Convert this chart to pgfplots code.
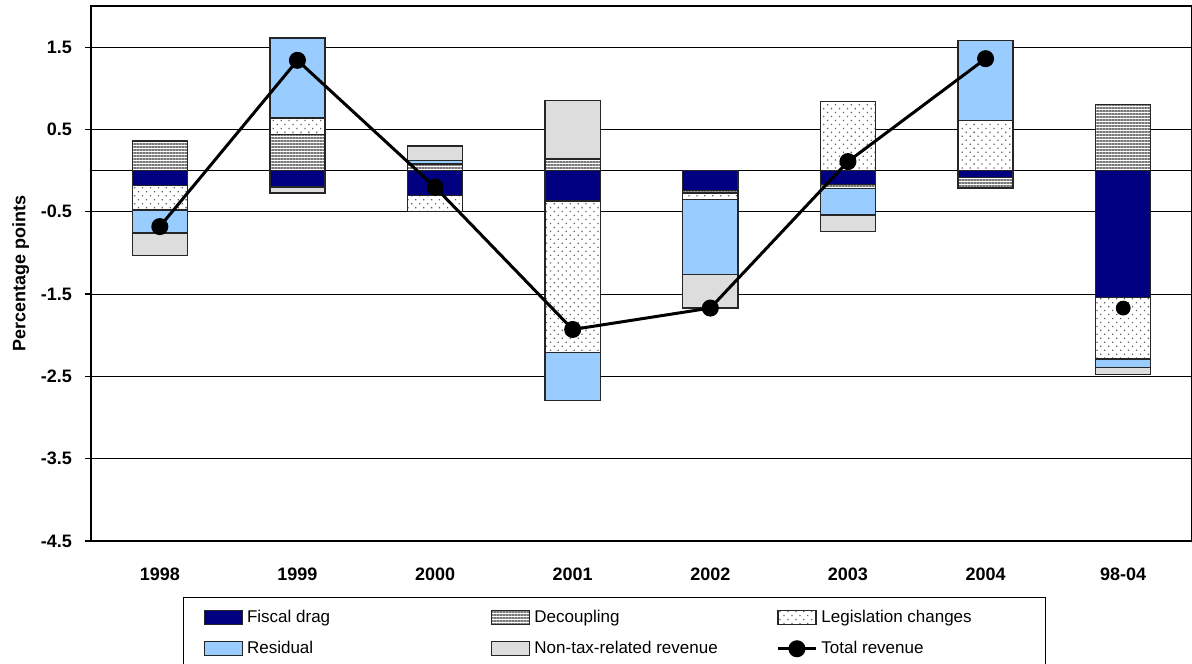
\documentclass[border=0pt]{standalone}
\usepackage{fontspec}
\setmainfont{Liberation Sans}
\usepackage{pgfplots}
\pgfplotsset{compat=1.18}
\usepackage{pgfplotstable}
\usetikzlibrary{patterns.meta}

\definecolor{drag}{HTML}{000080}
\definecolor{resid}{HTML}{99CCFF}
\definecolor{nontax}{HTML}{DDDDDD}
\definecolor{stripe}{HTML}{787878}
\definecolor{dot}{HTML}{606060}

% contributions, percentage points (signed); x = category index
\pgfplotstableread{
x fiscal decoup legis resid nontax
0 -0.18  0.36 -0.30 -0.28 -0.27
1 -0.20  0.44  0.20  0.97 -0.07
2 -0.30  0.08 -0.20  0.04  0.18
3 -0.37  0.14 -1.84 -0.58  0.71
4 -0.24 -0.03 -0.08 -0.91 -0.41
5 -0.17 -0.05  0.84 -0.32 -0.20
6 -0.08 -0.13  0.61  0.97 -0.01
7 -1.54  0.80 -0.75 -0.10 -0.09
}\contrib

\pgfplotstableread{
x total
0 -0.68
1  1.34
2 -0.20
3 -1.93
4 -1.67
5  0.11
6  1.36
}\total

\pgfplotsset{
  frame/.style={
    width=550.5pt, height=267.5pt, scale only axis,
    xmin=-0.5, xmax=7.5, ymin=-4.5, ymax=2,
  },
  bars/.style={frame, ybar stacked, bar width=0.4},
  seg/.style={draw=black!85, line width=0.7pt},
  fiscalst/.style={seg, fill=drag},
  decoupst/.style={seg, fill=white, postaction={pattern={Lines[angle=0,distance=1.5pt,line width=0.7pt]}, pattern color=stripe}},
  legisst/.style={seg, fill=white, postaction={pattern={Dots[angle=45,distance=2.8pt,radius=0.45pt]}, pattern color=dot}},
  residst/.style={seg, fill=resid},
  nontaxst/.style={seg, fill=nontax},
  barlegend/.style={legend image code/.code={\draw[##1] (0pt,-3.5pt) rectangle (19pt,3.5pt);}},
  linelegend/.style={legend image code/.code={\draw[mark repeat=2,mark phase=2,##1] plot coordinates {(0pt,0pt) (9.5pt,0pt) (19pt,0pt)};}},
}

\begin{document}
\begin{tikzpicture}
% positive parts, with the frame and grid
\begin{axis}[bars, name=ax,
  axis line style={black, line width=0.8pt},
  xtick={0,...,7},
  xticklabels={1998,1999,2000,2001,2002,2003,2004,98-04},
  x tick style={draw=none},
  xticklabel style={font=\bfseries\fontsize{9}{10}\selectfont, yshift=-7pt},
  ytick={-4.5,-3.5,-2.5,-1.5,-0.5,0.5,1.5},
  yticklabels={-4.5,-3.5,-2.5,-1.5,-0.5,0.5,1.5},
  yticklabel style={font=\bfseries\fontsize{9}{10}\selectfont, xshift=-3pt},
  y tick style={black, line width=0.6pt},
  tick align=outside, major tick length=3pt,
  extra y ticks={0}, extra y tick labels={},
  extra y tick style={grid=major, y tick style={draw=none}},
  ymajorgrids, grid style={black, line width=0.55pt},
  ylabel={Percentage points}, ylabel shift=-7pt,
  ylabel style={font=\bfseries\fontsize{9}{10}\selectfont},
  y filter/.expression={max(y,0)},
]
\addplot[fiscalst] table[x=x,y=fiscal] {\contrib};
\addplot[decoupst] table[x=x,y=decoup] {\contrib};
\addplot[legisst]  table[x=x,y=legis]  {\contrib};
\addplot[residst]  table[x=x,y=resid]  {\contrib};
\addplot[nontaxst] table[x=x,y=nontax] {\contrib};
\end{axis}
% negative parts
\begin{axis}[bars, hide axis, at={(ax.south west)}, anchor=south west,
  y filter/.expression={min(y,0)},
]
\addplot[fiscalst] table[x=x,y=fiscal] {\contrib};
\addplot[decoupst] table[x=x,y=decoup] {\contrib};
\addplot[legisst]  table[x=x,y=legis]  {\contrib};
\addplot[residst]  table[x=x,y=resid]  {\contrib};
\addplot[nontaxst] table[x=x,y=nontax] {\contrib};
\end{axis}
% total revenue and legend
\begin{axis}[frame, hide axis, at={(ax.south west)}, anchor=south west,
  legend columns=3,
  legend style={at={(0.0836,-0.105)}, anchor=north west, draw=black, line width=0.6pt,
    font=\fontsize{8.5}{10}\selectfont, row sep=4pt, inner xsep=10pt, inner ysep=4pt},
  legend cell align=left,
]
\addlegendimage{barlegend, fiscalst}
\addlegendimage{barlegend, decoupst}
\addlegendimage{barlegend, legisst}
\addlegendimage{barlegend, residst}
\addlegendimage{barlegend, nontaxst}
\addplot[black, line width=1.5pt, mark=*, mark size=3.5pt, linelegend] table[x=x,y=total] {\total};
\addplot[black, only marks, mark=*, mark size=3.5pt, forget plot] coordinates {(7,-1.67)};
\legend{\makebox[120pt][l]{Fiscal drag},\makebox[119pt][l]{Decoupling},\makebox[100pt][l]{Legislation changes},
  Residual,Non-tax-related revenue,Total revenue}
\end{axis}
\pgfresetboundingbox
\path[use as bounding box] ([xshift=-45.5pt,yshift=3pt]ax.north west) rectangle ([yshift=-61pt]ax.south east);
\end{tikzpicture}
\end{document}
